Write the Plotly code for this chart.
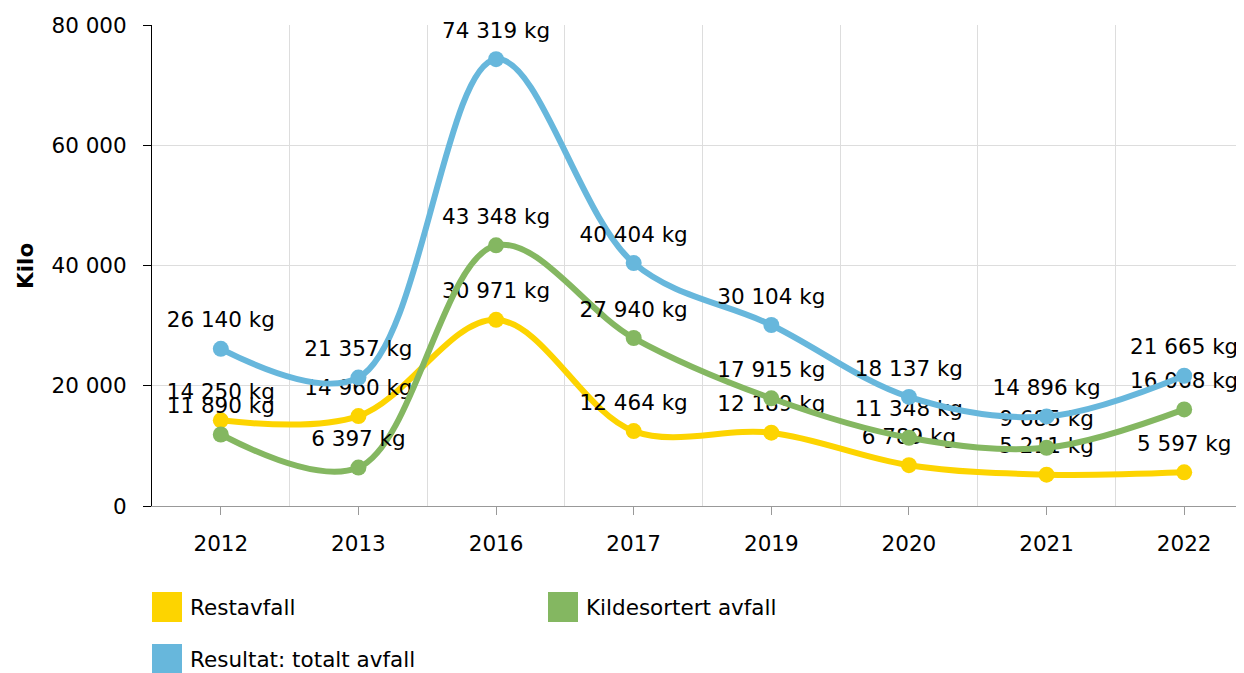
import plotly.graph_objects as go

years = ["2012", "2013", "2016", "2017", "2019", "2020", "2021", "2022"]
restavfall = [14250, 14960, 30971, 12464, 12189, 6789, 5211, 5597]
kildesortert = [11890, 6397, 43348, 27940, 17915, 11348, 9685, 16068]
totalt = [26140, 21357, 74319, 40404, 30104, 18137, 14896, 21665]

series_names = ["Restavfall", "Kildesortert avfall", "Resultat: totalt avfall"]
series_values = [restavfall, kildesortert, totalt]
colors = ["#FDD400", "#84B761", "#67B7DC"]

FONT = "DejaVu Sans"
FS = 21.5
OFF = 8  # page body margin
ML, MT = 152 - OFF, 25 - OFF
PW, PH = 1101, 481
W = ML + PW
H = 673
MB = H - MT - PH

xpos = list(range(len(years)))

fig = go.Figure()
for name, vals, col in zip(series_names, series_values, colors):
    fig.add_trace(go.Scatter(
        x=xpos, y=vals, name=name, mode="lines+markers",
        line=dict(color=col, width=6, shape="spline", smoothing=1),
        marker=dict(color=col, size=16),
        showlegend=False, hoverinfo="skip", cliponaxis=False,
    ))
    fig.add_trace(go.Scatter(
        x=xpos, y=vals, mode="markers+text",
        marker=dict(size=24, opacity=0),
        text=[f"{v:,}".replace(",", " ") + " kg" for v in vals],
        textposition="top center",
        textfont=dict(family=FONT, size=FS, color="#000000"),
        showlegend=False, hoverinfo="skip", cliponaxis=False,
    ))

# manual legend (squares + text); page pixel coords converted to paper coords
def px_x(p):
    return (p - OFF - ML) / PW

def px_y(p):
    return (MT + PH - (p - OFF)) / PH

legend_pos = [(152, 607), (548, 607), (152, 659)]
for (lx, ly), name, col in zip(legend_pos, series_names, colors):
    fig.add_shape(type="rect", xref="paper", yref="paper",
                  x0=px_x(lx), x1=px_x(lx + 30), y0=px_y(ly - 15), y1=px_y(ly + 15),
                  fillcolor=col, line=dict(width=0))
    fig.add_annotation(xref="paper", yref="paper", x=px_x(lx + 36), y=px_y(ly),
                       xanchor="left", yanchor="middle", showarrow=False,
                       text=name, font=dict(family=FONT, size=FS, color="#000000"))

fig.add_annotation(xref="paper", yref="paper", x=px_x(25), y=px_y(266),
                   xanchor="center", yanchor="middle", showarrow=False, textangle=-90,
                   text="<b>Kilo</b>", font=dict(family=FONT, size=FS, color="#000000"))

fig.update_layout(
    width=W, height=H,
    margin=dict(l=ML, r=0, t=MT, b=MB, autoexpand=False),
    paper_bgcolor="white", plot_bgcolor="white",
    separators=", ",
    font=dict(family=FONT, size=FS, color="#000000"),
    xaxis=dict(
        range=[-0.5, 7.5], tickvals=xpos, ticktext=years,
        showgrid=False, zeroline=False,
        showline=True, linecolor="#999999", linewidth=1,
        ticks="outside", ticklen=8, tickcolor="#999999",
        ticklabelstandoff=10,
        minor=dict(tickvals=[i + 0.5 for i in xpos[:-1]], showgrid=True,
                   gridcolor="#DDDDDD", gridwidth=1, ticks=""),
        tickfont=dict(family=FONT, size=FS, color="#000000"),
    ),
    yaxis=dict(
        range=[0, 80000], tickvals=[0, 20000, 40000, 60000, 80000],
        tickformat=",d", showgrid=True, gridcolor="#DDDDDD", gridwidth=1,
        zeroline=False, showline=True, linecolor="#000000", linewidth=1,
        ticks="outside", ticklen=8, tickcolor="#000000",
        ticklabelstandoff=12,
        tickfont=dict(family=FONT, size=FS, color="#000000"),
    ),
)

fig.write_html("out.html")
